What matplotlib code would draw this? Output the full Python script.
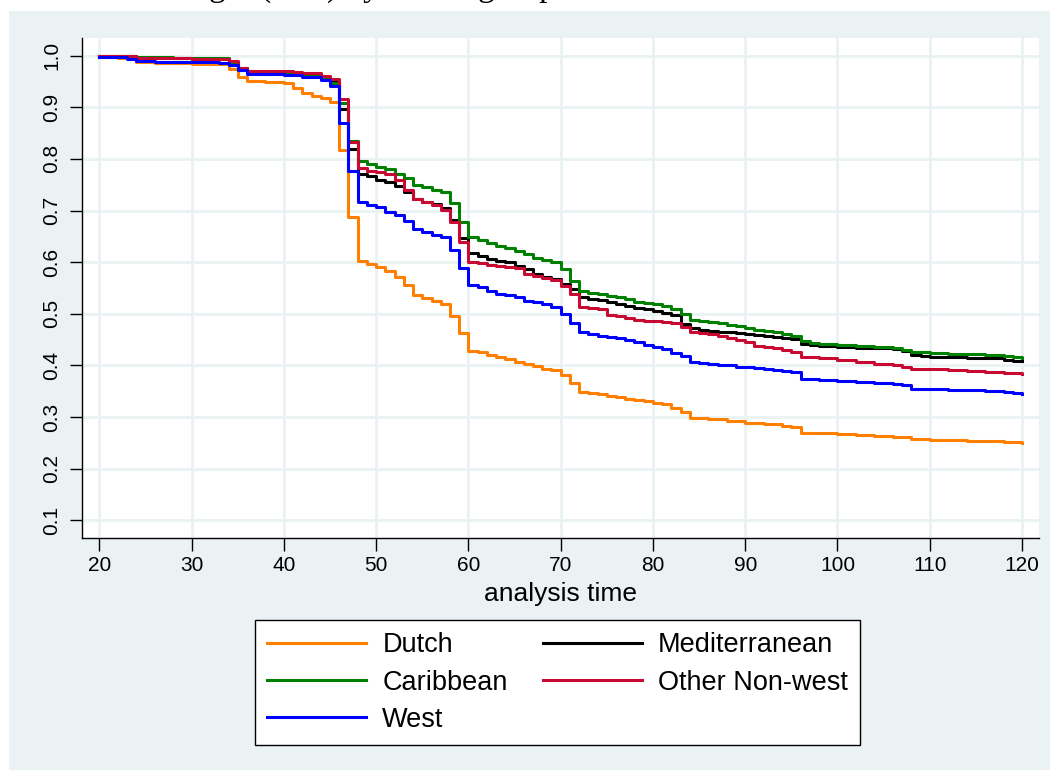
import matplotlib
matplotlib.use("Agg")
import matplotlib.pyplot as plt
from matplotlib.patches import Rectangle

# survival estimates: change points (months) and values
dutch_t = [20, 22, 24, 26, 28, 30, 32, 34, 35, 36, 38, 40, 41, 42, 43, 44, 45, 46, 47, 48,
           49, 50, 51, 52, 53, 54, 55, 56, 57, 58, 59, 60, 61, 62, 63, 64, 65, 66, 67, 68,
           69, 70, 71, 72, 73, 74, 75, 76, 77, 78, 79, 80, 81, 82, 83, 84, 86, 88, 90, 92,
           94, 95, 96, 98, 100, 102, 104, 106, 108, 110, 112, 114, 116, 118, 120]
dutch_s = [.998, .995, .988, .986, .985, .984, .983, .974, .958, .950, .948, .946, .937, .928,
           .922, .918, .911, .817, .688, .603, .597, .590, .582, .572, .555, .537, .531, .525,
           .519, .495, .463, .428, .426, .421, .416, .412, .407, .403, .399, .394, .391, .381,
           .367, .349, .347, .344, .341, .339, .336, .334, .331, .327, .325, .318, .309, .299,
           .297, .293, .289, .286, .282, .280, .270, .269, .267, .265, .263, .261, .257, .256,
           .255, .254, .253, .251, .249]

med_t = [20, 24, 30, 34, 35, 36, 40, 42, 44, 45, 46, 47, 48, 49, 50, 51, 52, 53, 54, 55, 56,
         57, 58, 59, 60, 61, 62, 63, 64, 65, 66, 67, 68, 69, 70, 71, 72, 73, 74, 75, 76, 77,
         78, 79, 80, 81, 82, 83, 84, 85, 86, 87, 88, 89, 90, 91, 92, 93, 94, 95, 96, 97, 98,
         100, 102, 104, 106, 107, 108, 109, 110, 114, 118, 119, 120]
med_s = [1.0, .996, .994, .988, .975, .969, .966, .962, .956, .950, .896, .820, .770, .767,
         .760, .756, .748, .735, .722, .717, .712, .704, .682, .646, .617, .612, .607, .603,
         .600, .593, .587, .577, .572, .567, .558, .548, .532, .529, .526, .523, .519, .516,
         .512, .509, .506, .501, .498, .480, .472, .469, .467, .465, .464, .462, .461, .459,
         .457, .455, .454, .452, .441, .439, .438, .436, .434, .433, .431, .429, .420, .418,
         .416, .415, .411, .409, .408]

car_t = [20, 24, 28, 34, 35, 36, 40, 42, 44, 45, 46, 47, 48, 49, 50, 51, 52, 53, 54, 55, 56,
         57, 58, 59, 60, 61, 62, 63, 64, 65, 66, 67, 68, 69, 70, 71, 72, 73, 74, 75, 76, 77,
         78, 79, 80, 81, 82, 83, 84, 85, 86, 87, 88, 89, 90, 91, 92, 93, 94, 95, 96, 97, 98,
         100, 102, 104, 106, 107, 108, 110, 112, 114, 116, 117, 118, 119, 120]
car_s = [1.0, .997, .995, .988, .973, .969, .966, .962, .955, .946, .908, .835, .795, .790,
         .785, .780, .771, .762, .749, .745, .740, .735, .714, .677, .648, .643, .638, .632,
         .627, .622, .616, .609, .605, .601, .587, .564, .545, .541, .538, .535, .532, .528,
         .523, .521, .519, .516, .509, .499, .488, .486, .484, .482, .479, .476, .472, .469,
         .466, .464, .461, .457, .448, .443, .441, .439, .437, .435, .433, .430, .426, .424,
         .423, .422, .421, .420, .418, .416, .415]

oth_t = [20, 24, 30, 34, 35, 36, 41, 42, 44, 45, 46, 47, 48, 49, 50, 51, 52, 53, 54, 55, 56,
         57, 58, 59, 60, 61, 62, 63, 64, 65, 66, 67, 68, 69, 70, 71, 72, 73, 74, 75, 76, 77,
         78, 79, 80, 81, 82, 83, 84, 85, 86, 87, 88, 89, 90, 91, 92, 93, 94, 95, 96, 98, 100,
         102, 104, 106, 107, 108, 110, 112, 114, 116, 118, 119, 120]
oth_s = [1.0, .996, .994, .990, .975, .970, .968, .966, .961, .955, .915, .833, .783, .777,
         .775, .771, .760, .739, .722, .716, .711, .701, .678, .640, .601, .598, .595, .592,
         .590, .588, .577, .573, .569, .566, .553, .538, .514, .511, .509, .498, .495, .491,
         .489, .487, .486, .484, .483, .474, .465, .463, .461, .457, .454, .450, .446, .437,
         .435, .433, .430, .427, .416, .414, .411, .407, .403, .400, .398, .394, .393, .391,
         .389, .388, .386, .385, .383]

west_t = [20, 23, 24, 26, 30, 33, 34, 35, 36, 40, 42, 44, 45, 46, 47, 48, 49, 50, 51, 52, 53,
          54, 55, 56, 57, 58, 59, 60, 61, 62, 63, 64, 65, 66, 67, 68, 69, 70, 71, 72, 73, 74,
          75, 76, 77, 78, 79, 80, 81, 82, 83, 84, 85, 86, 87, 88, 89, 90, 91, 92, 93, 94, 95,
          96, 98, 100, 102, 104, 106, 107, 108, 110, 112, 114, 116, 118, 119, 120]
west_s = [.998, .994, .990, .988, .987, .985, .982, .972, .965, .963, .958, .952, .942, .870,
          .777, .717, .711, .706, .698, .691, .679, .664, .658, .653, .648, .624, .588, .556,
          .551, .545, .538, .536, .533, .525, .522, .519, .514, .499, .483, .464, .461, .458,
          .456, .454, .450, .446, .440, .436, .432, .424, .419, .406, .404, .402, .401, .400,
          .398, .397, .395, .393, .391, .390, .387, .373, .372, .370, .368, .366, .364, .362,
          .355, .354, .353, .352, .350, .348, .346, .344]

groups = ["Dutch", "Mediterranean", "Caribbean", "Other Non-west", "West"]
colors = ["#FF8000", "#000000", "#008000", "#C80A32", "#0000FF"]
series = [(dutch_t, dutch_s), (med_t, med_s), (car_t, car_s), (oth_t, oth_s), (west_t, west_s)]

x_ticks = list(range(20, 121, 10))
y_ticks = [0.1, 0.2, 0.3, 0.4, 0.5, 0.6, 0.7, 0.8, 0.9, 1.0]

bg = "#EAF2F3"
W, H = 1050, 770

fig = plt.figure(figsize=(W / 100, H / 100), dpi=100, facecolor="white")
fig.patches.append(Rectangle((9 / W, 0), 1 - 9 / W, 1 - 11 / H, transform=fig.transFigure,
                             facecolor=bg, edgecolor="none", zorder=-10))

# cut-off caption above the graph
fig.text(45 / W, 1 + 4.5 / H, "Contract length (mos) by ethnic group",
         family="Liberation Serif", fontsize=24, ha="left", va="baseline")

ax = fig.add_axes([82 / W, 1 - 538 / H, (1039 - 82) / W, (538 - 38) / H])
ax.set_facecolor("white")

lines = {}
for name, col, (t, s) in zip(groups, colors, series):
    ln, = ax.step(t, s, where="post", color=col, lw=2.2, label=name)
    lines[name] = ln

ax.set_xlim(18.12, 121.84)
ax.set_ylim(0.066, 1.034)
ax.set_xticks(x_ticks)
ax.set_yticks(y_ticks)
ax.set_yticklabels([f"{v:.1f}" for v in y_ticks], rotation=90, va="center")
ax.grid(True, color=bg, lw=2)
ax.set_axisbelow(True)
for side in ["top", "right"]:
    ax.spines[side].set_visible(False)
for side in ["left", "bottom"]:
    ax.spines[side].set_color("black")
    ax.spines[side].set_linewidth(1.0)
ax.tick_params(axis="both", direction="out", length=9, width=1, color="black",
               labelsize=15, pad=4)
ax.tick_params(axis="y", pad=6)
for lab in ax.get_xticklabels() + ax.get_yticklabels():
    lab.set_family("Liberation Sans")

ax.set_xlabel("analysis time", family="Liberation Sans", fontsize=19, labelpad=5)

order = ["Dutch", "Caribbean", "West", "Mediterranean", "Other Non-west"]
leg = fig.legend([lines[n] for n in order], order, ncol=2, loc="upper left",
                 bbox_to_anchor=(255 / W, 1 - 620 / H), borderaxespad=0,
                 prop={"family": "Liberation Sans", "size": 19.5},
                 handlelength=3.65, handletextpad=0.6, columnspacing=1.3,
                 labelspacing=0.42, borderpad=0.45, fancybox=False, framealpha=1)
leg.get_frame().set_edgecolor("black")
leg.get_frame().set_linewidth(1.0)
for h in leg.get_lines():
    h.set_linewidth(2.2)

fig.savefig("out.png", dpi=100, facecolor=fig.get_facecolor())
